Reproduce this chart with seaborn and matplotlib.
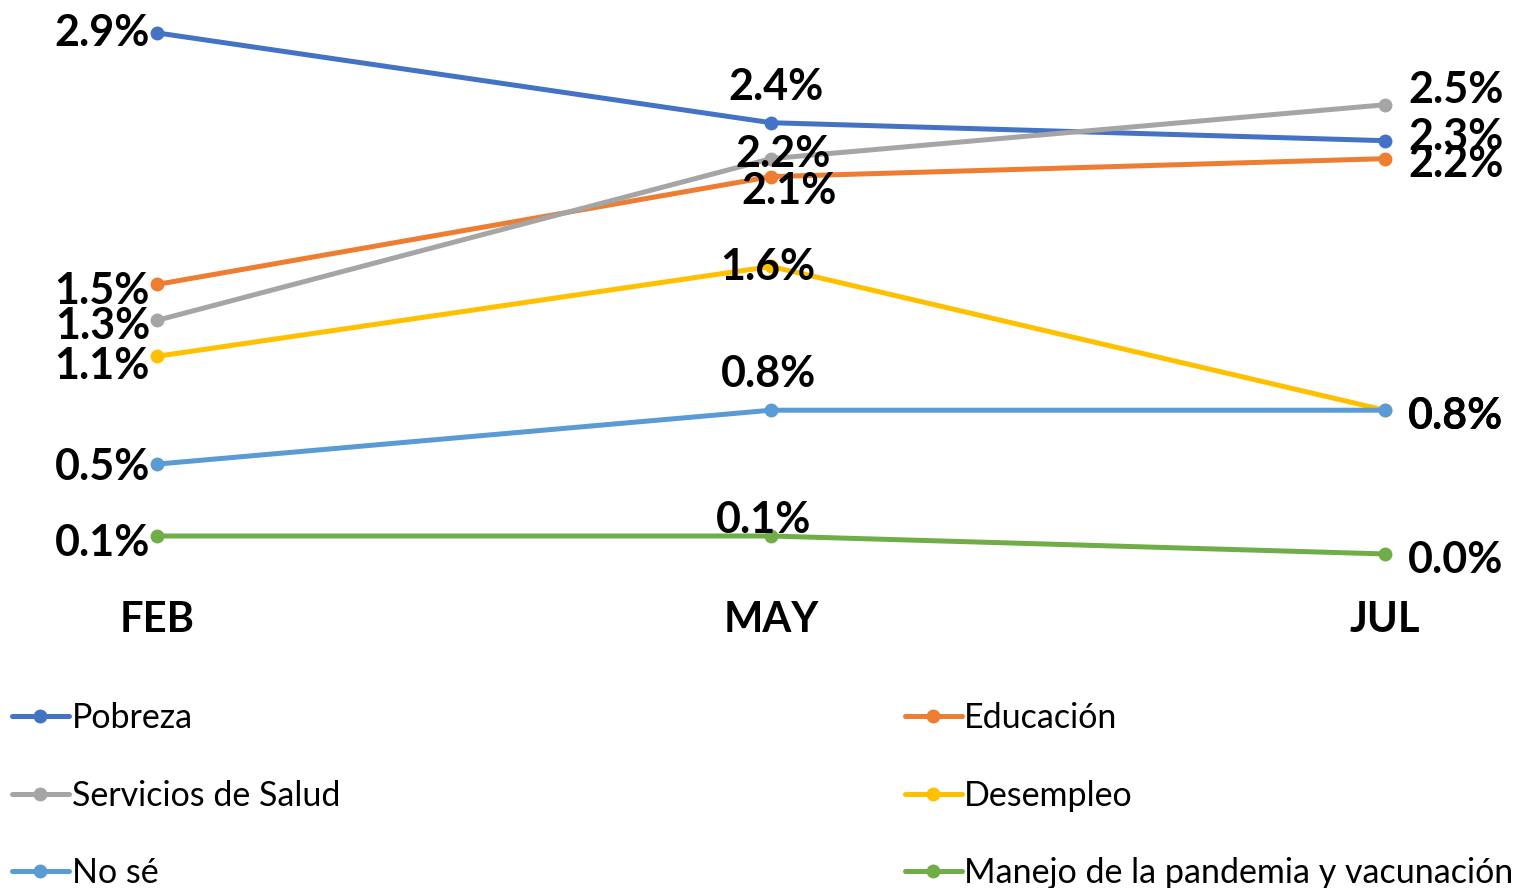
import numpy as np
import pandas as pd
import matplotlib.pyplot as plt
import seaborn as sns
from matplotlib.lines import Line2D

# Datos (porcentaje)
meses = ["FEB", "MAY", "JUL"]
temas = ["Pobreza", "Educación", "Servicios de Salud", "Desempleo", "No sé",
         "Manejo de la pandemia y vacunación"]
pobreza = [2.9, 2.4, 2.3]
educacion = [1.5, 2.1, 2.2]
salud = [1.3, 2.2, 2.5]
desempleo = [1.1, 1.6, 0.8]
no_se = [0.5, 0.8, 0.8]
manejo = [0.1, 0.1, 0.0]

colores = ["#4472C4", "#ED7D31", "#A5A5A5", "#FFC000", "#5B9BD5", "#70AD47"]

series = [pobreza, educacion, salud, desempleo, no_se, manejo]
df = pd.DataFrame({
    "mes": meses * len(temas),
    "tema": np.repeat(temas, len(meses)),
    "valor": np.concatenate(series),
})

# desplazamiento de cada etiqueta en píxeles (dx, dy, ha)
despl = {
    "Pobreza": [(-7, 0, "right"), (5, 36, "center"), (23, 4, "left")],
    "Educación": [(-7, -7, "right"), (18, -14, "center"), (23, -5, "left")],
    "Servicios de Salud": [(-7, -6, "right"), (12, 5, "center"), (23, 15, "left")],
    "Desempleo": [(-7, -10, "right"), (-3, -1, "center"), (23, -6, "left")],
    "No sé": [(-7, -3, "right"), (-3, 36, "center"), (23, -6, "left")],
    "Manejo de la pandemia y vacunación": [(-7, -7, "right"), (-7, 16, "center"), (23, -6, "left")],
}

sns.set_theme(style="white")
plt.rcParams["font.family"] = ["Lato", "DejaVu Sans"]

fig = plt.figure(figsize=(15.32, 8.88), dpi=100)
ax = fig.add_axes([0, 0.33, 1, 0.67])

sns.lineplot(data=df, x="mes", y="valor", hue="tema", palette=colores,
             marker="o", markersize=10, markeredgewidth=0, linewidth=3.6,
             legend=False, ax=ax, clip_on=False)

for tema, vals in zip(temas, series):
    for i, v in enumerate(vals):
        dx, dy, ha = despl[tema][i]
        ax.annotate(f"{v:.1f}%", (i, v), xytext=(dx, dy), textcoords="offset pixels",
                    ha=ha, va="center", fontsize=31, fontweight="bold", color="black",
                    annotation_clip=False)

ax.set_xlim(-157 / 614, (1532 - 157) / 614)
ax.set_ylim((554 - 595) / 179.7, 554 / 179.7)
ax.set_yticks([])
ax.set_xlabel("")
ax.set_ylabel("")
ax.tick_params(axis="x", length=0, pad=4, labelcolor="black")
for lab in ax.get_xticklabels():
    lab.set_fontsize(30)
    lab.set_fontweight("bold")
sns.despine(ax=ax, left=True, bottom=True)

orden = [0, 2, 4, 1, 3, 5]
handles = [Line2D([], [], color=colores[k], linewidth=3.6, marker="o", markersize=10,
                  markeredgewidth=0) for k in orden]
fig.legend(handles, [temas[k] for k in orden], ncol=2, loc="upper left",
           bbox_to_anchor=(12 / 1532, 1 - 702 / 888), frameon=False, fontsize=24.5,
           handlelength=1.67, handletextpad=0.08, labelspacing=1.34,
           columnspacing=16.6, borderpad=0, borderaxespad=0, labelcolor="black")

fig.savefig("out.png", dpi=100)
